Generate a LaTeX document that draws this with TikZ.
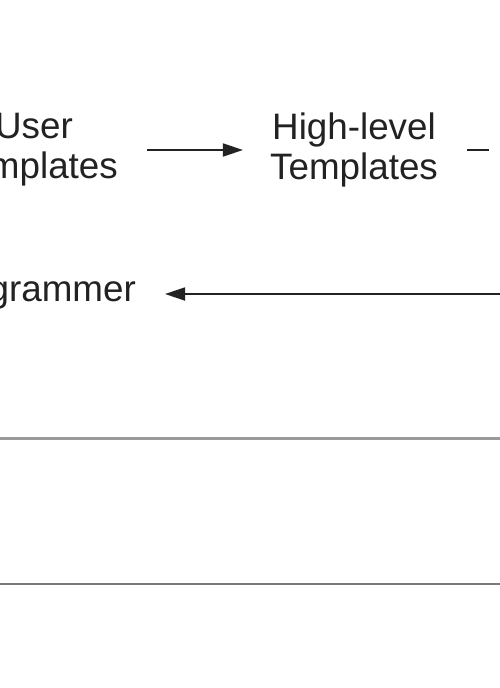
\documentclass[tikz,border=0pt]{standalone}
\usepackage{fontspec}
\setmainfont{Liberation Sans}
\usetikzlibrary{arrows.meta}
\definecolor{txt}{HTML}{222222}
\definecolor{arr}{HTML}{222222}
\definecolor{rule1}{HTML}{9A9A9A}
\definecolor{rule2}{HTML}{7A7A7A}
\tikzset{
  lbl/.style={inner sep=0pt, align=center, text=txt, font=\fontsize{36.8}{40}\selectfont},
  conn/.style={draw=arr, line width=1.8pt, -{Triangle[length=20pt,width=13pt]}},
}
\begin{document}
\begin{tikzpicture}[x=1pt,y=-1pt]
\useasboundingbox (0,0) rectangle (500,688);
\clip (0,0) rectangle (500,688);
\fill[white] (0,0) rectangle (500,688);
\node[lbl, anchor=east] (user) at (118,150) {User\\Templates};
\node[lbl] (high) at (354,150) {High-level\\Templates};
\node[lbl, anchor=east] (prog) at (136,293) {Programmer};
\coordinate (offr) at (540,294);
\coordinate (dashs) at (467,149.5);
\coordinate (dashe) at (489,149.5);
\draw[conn, shorten <=29pt, shorten >=27pt] (user.east) -- (high.west);
\draw[conn, shorten >=29pt] (offr) -- (prog.east |- offr);
\draw[draw=arr, line width=2pt] (dashs) -- (dashe);
\coordinate (r1a) at (0,438);
\coordinate (r1b) at (500,438);
\coordinate (r2a) at (0,584);
\coordinate (r2b) at (500,584);
\draw[rule1, line width=3pt] (r1a) -- (r1b);
\draw[rule2, line width=2.5pt] (r2a) -- (r2b);
\end{tikzpicture}
\end{document}
